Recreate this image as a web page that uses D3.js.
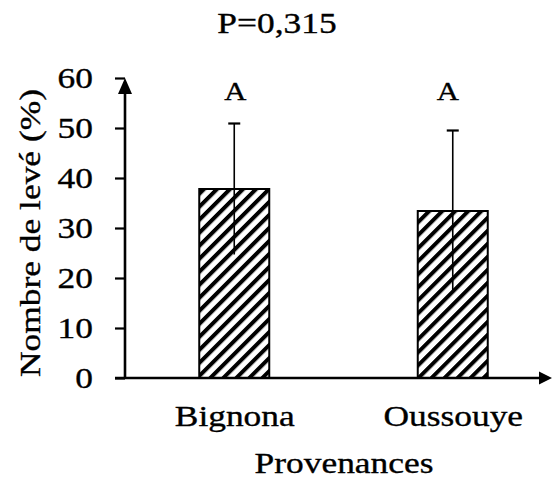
<!DOCTYPE html>
<html>
<head>
<meta charset="utf-8">
<script src="https://cdn.jsdelivr.net/npm/d3@7"></script>
<style>
  html, body { margin: 0; padding: 0; background: #fff; }
  svg { display: block; }
  text { font-family: "Liberation Serif", "Times New Roman", serif; fill: #000; stroke: #000; stroke-width: 0.35px; }
</style>
</head>
<body>
<script>
// Germination data by provenance
const categories = ["Bignona", "Oussouye"];
const means = [37.8, 33.4];
const sds = [13.1, 16.1];
const groups = ["A", "A"];
const yTicks = [0, 10, 20, 30, 40, 50, 60];
const title = "P=0,315";
const yTitle = "Nombre de levé (%)";
const xTitle = "Provenances";

const W = 552, H = 481;
const SX = 1.18; // horizontal stretch of the serif text
const FS = 30;

const svg = d3.select("body").append("svg")
  .attr("width", W).attr("height", H);

const x0 = 125, yBase = 378;
const y = d3.scaleLinear().domain([0, 60]).range([yBase, 78]);
const x = d3.scalePoint().domain(categories).range([x0, 562]).padding(0.5);
const barW = 70;

// diagonal hatch fill
const defs = svg.append("defs");
const pat = defs.append("pattern")
  .attr("id", "hatch")
  .attr("patternUnits", "userSpaceOnUse")
  .attr("width", 9.2).attr("height", 9.2)
  .attr("patternTransform", "rotate(45)");
pat.append("rect").attr("width", 9.2).attr("height", 9.2).attr("fill", "#fff");
pat.append("line")
  .attr("x1", 2).attr("y1", 0).attr("x2", 2).attr("y2", 9.2)
  .attr("stroke", "#000").attr("stroke-width", 4);

// bars
svg.append("g").selectAll("rect")
  .data(categories)
  .join("rect")
  .attr("x", d => x(d) - barW / 2)
  .attr("y", (d, i) => y(means[i]))
  .attr("width", barW)
  .attr("height", (d, i) => yBase - y(means[i]))
  .attr("fill", "url(#hatch)")
  .attr("stroke", "#000")
  .attr("stroke-width", 2);

// error bars
const eb = svg.append("g").attr("stroke", "#000").attr("stroke-width", 1.6);
categories.forEach((c, i) => {
  const cx = x(c);
  eb.append("line")
    .attr("x1", cx).attr("x2", cx)
    .attr("y1", y(means[i] - sds[i])).attr("y2", y(means[i] + sds[i]));
  eb.append("line")
    .attr("x1", cx - 6).attr("x2", cx + 6)
    .attr("y1", y(means[i] + sds[i])).attr("y2", y(means[i] + sds[i]))
    .attr("stroke-width", 2.2);
});

// stretched text helper
function label(txt, tx, ty, size, anchor, rot) {
  const g = svg.append("g").attr("transform", `translate(${tx},${ty})` + (rot ? ` rotate(${rot})` : ""));
  g.append("text")
    .attr("transform", `scale(${SX},1)`)
    .attr("text-anchor", anchor)
    .attr("font-size", size)
    .text(txt);
}

// group letters
categories.forEach((c, i) => {
  label(groups[i], x(c) + (i === 0 ? 1 : -5), 100, 26, "middle");
});

// y axis
const yAxis = svg.append("g")
  .attr("transform", `translate(${x0},0)`)
  .call(d3.axisLeft(y).tickValues(yTicks).tickSize(10).tickSizeOuter(0));
yAxis.select(".domain").attr("stroke", "#000").attr("stroke-width", 2.6)
  .attr("d", `M0,${yBase}V${y(60) + 4}`);
yAxis.selectAll(".tick line").attr("stroke", "#000").attr("stroke-width", 2.2);
yAxis.selectAll(".tick text")
  .attr("x", -32 / SX)
  .attr("transform", `scale(${SX},1)`)
  .attr("font-size", FS)
  .attr("font-family", "Liberation Serif, Times New Roman, serif")
  .attr("fill", "#000");

// y arrowhead
svg.append("path")
  .attr("d", `M${x0 - 7},${y(60) + 16}L${x0},${y(60)}L${x0 + 7},${y(60) + 16}Z`)
  .attr("fill", "#000");

// x axis
const xAxis = svg.append("g")
  .attr("transform", `translate(0,${yBase})`)
  .call(d3.axisBottom(x).tickSize(0).tickSizeOuter(0).tickPadding(30));
xAxis.select(".domain").attr("stroke", "#000").attr("stroke-width", 2.6)
  .attr("d", `M${x0 - 10},0H${W - 6}`);
xAxis.selectAll(".tick text")
  .attr("transform", `scale(${SX},1)`)
  .attr("font-size", FS)
  .attr("font-family", "Liberation Serif, Times New Roman, serif")
  .attr("fill", "#000")
  .attr("dy", "0.71em")
  .attr("y", 27);

// x arrowhead
svg.append("path")
  .attr("d", `M${W - 13},${yBase - 6.5}L${W},${yBase}L${W - 13},${yBase + 6.5}Z`)
  .attr("fill", "#000");

// titles
label(title, 277, 33, FS, "middle");
label(xTitle, 344, 473, FS, "middle");
label(yTitle, 40, 233, FS, "middle", -90);
</script>
</body>
</html>
